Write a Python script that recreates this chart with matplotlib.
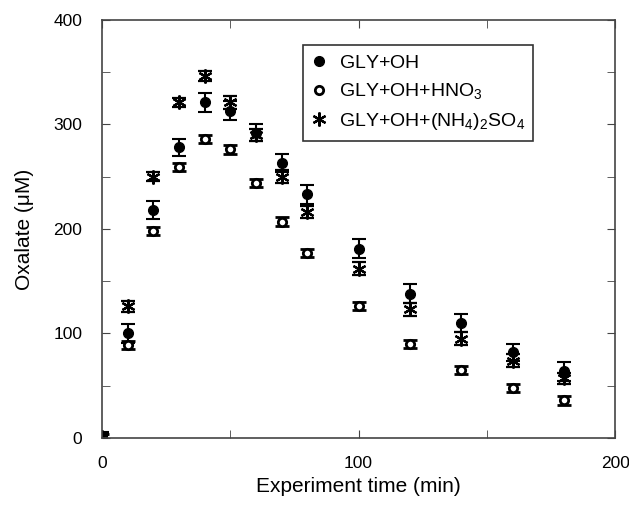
import numpy as np
import matplotlib.pyplot as plt
from matplotlib.ticker import MultipleLocator
from matplotlib.lines import Line2D

plt.rcParams['font.family'] = ['Liberation Sans', 'DejaVu Sans']
plt.rcParams['mathtext.fontset'] = 'custom'
plt.rcParams['mathtext.rm'] = 'Liberation Sans'
plt.rcParams['mathtext.it'] = 'Liberation Sans'

# reaction time (min)
time = [0, 10, 20, 30, 40, 50, 60, 70, 80, 100, 120, 140, 160, 180]

# oxalate (uM) for each experiment
gly_oh = [2, 100, 218, 278, 321, 313, 292, 263, 233, 181, 138, 110, 82, 64]
gly_oh_err = [4, 9, 9, 8, 9, 9, 8, 9, 9, 9, 9, 9, 8, 9]
gly_hno3 = [1, 89, 198, 259, 286, 276, 244, 207, 177, 126, 90, 65, 48, 36]
gly_hno3_err = [3, 4, 4, 4, 4, 4, 4, 4, 4, 4, 4, 4, 4, 4]
gly_so4 = [1, 126, 250, 321, 346, 321, 290, 250, 216, 162, 123, 95, 74, 57]
gly_so4_err = [3, 5, 4, 4, 5, 6, 6, 6, 6, 6, 6, 6, 6, 5]

labels = ["GLY$+$OH", "GLY$+$OH$+$HNO$_3$", "GLY$+$OH$+$(NH$_4$)$_2$SO$_4$"]

fig, ax = plt.subplots(figsize=(6.29, 5.07), dpi=100)
fig.subplots_adjust(left=0.162, right=0.978, top=0.961, bottom=0.136)

star = (6, 2, 0)
eb = dict(color='black', capsize=5, elinewidth=1.5, capthick=1.5, ls='none')
ax.errorbar(time, gly_oh, yerr=gly_oh_err, marker='o', ms=7, **eb)
ax.errorbar(time, gly_hno3, yerr=gly_hno3_err, marker='o', mfc='white',
            mew=2, ms=6, **eb)
ax.errorbar(time, gly_so4, yerr=gly_so4_err, marker=star, ms=10, mew=1.6, **eb)

ax.set_xlim(0, 200)
ax.set_ylim(0, 400)
ax.xaxis.set_major_locator(MultipleLocator(100))
ax.xaxis.set_minor_locator(MultipleLocator(50))
ax.yaxis.set_major_locator(MultipleLocator(100))
ax.yaxis.set_minor_locator(MultipleLocator(50))
ax.tick_params(which='both', direction='in', top=True, right=True, labelsize=12.5,
               color='#444444', length=6)
ax.tick_params(axis='y', pad=14)
ax.tick_params(axis='x', pad=13)
for s in ax.spines.values():
    s.set_linewidth(1.2)
    s.set_color('#444444')

ax.set_xlabel("Experiment time (min)", fontsize=15, labelpad=4)
ax.set_ylabel("Oxalate (\u03bcM)", fontsize=15, labelpad=14)

# legend shows only markers
handles = [
    Line2D([], [], ls='none', marker='o', color='black', ms=7),
    Line2D([], [], ls='none', marker='o', color='black', mfc='white', mew=2, ms=6),
    Line2D([], [], ls='none', marker=star, color='black', ms=10, mew=1.6),
]
leg = ax.legend(handles, labels, loc='upper left', bbox_to_anchor=(0.372, 0.962),
                fontsize=14, frameon=True, fancybox=False, edgecolor='black',
                handlelength=0.8, handletextpad=0.6, borderpad=0.45, labelspacing=0.5)
leg.get_frame().set_linewidth(1.2)

fig.savefig("out.png", dpi=100)
